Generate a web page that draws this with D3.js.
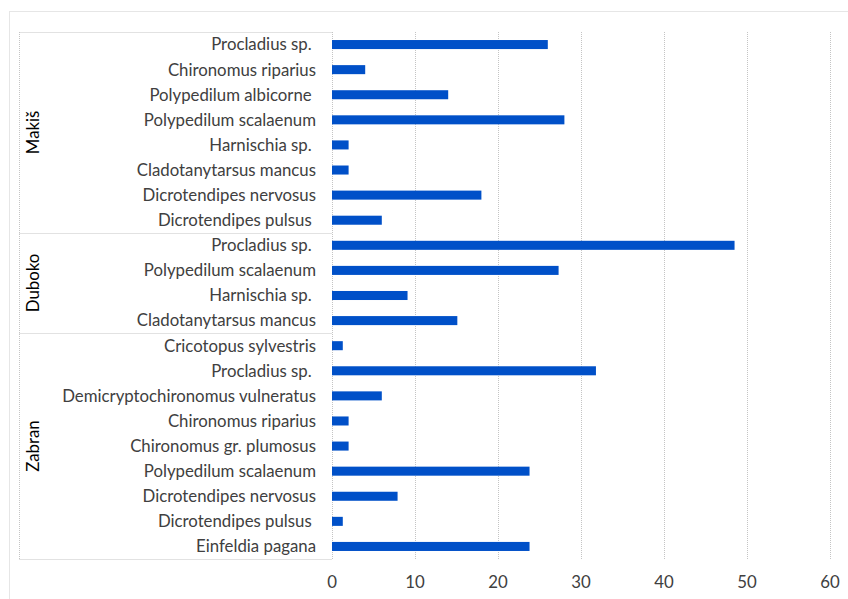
<!DOCTYPE html>
<html><head><meta charset="utf-8">
<script src="https://cdn.jsdelivr.net/npm/d3@7"></script>
<style>
body{margin:0;background:#fff;}
svg{display:block;font-family:Lato,"Open Sans",sans-serif;}
</style></head><body>
<svg id="c" width="848" height="599"></svg>
<script>
const groups = ["Makiš","Duboko","Zabran"];
const makisSpecies = ["Procladius sp. ","Chironomus riparius","Polypedilum albicorne ","Polypedilum scalaenum","Harnischia sp. ","Cladotanytarsus mancus","Dicrotendipes nervosus","Dicrotendipes pulsus "];
const makisValues = [26,4,14,28,2,2,18,6];
const dubokoSpecies = ["Procladius sp. ","Polypedilum scalaenum","Harnischia sp. ","Cladotanytarsus mancus"];
const dubokoValues = [48.5,27.3,9.1,15.1];
const zabranSpecies = ["Cricotopus sylvestris","Procladius sp. ","Demicryptochironomus vulneratus","Chironomus riparius","Chironomus gr. plumosus","Polypedilum scalaenum","Dicrotendipes nervosus","Dicrotendipes pulsus ","Einfeldia pagana"];
const zabranValues = [1.3,31.8,6,2,2,23.8,7.9,1.3,23.8];
const xTicks = [0,10,20,30,40,50,60];

(function(){
const groupSpecies = [makisSpecies, dubokoSpecies, zabranSpecies];
const groupValues = [makisValues, dubokoValues, zabranValues];
const rows = [];
groups.forEach((g,gi)=>groupSpecies[gi].forEach((s,i)=>rows.push({group:g,species:s,value:groupValues[gi][i],id:g+"|"+i})));

const svg = d3.select("#c");
const pL=332, pR=830, pT=32, pB=559;
const x = d3.scaleLinear().domain([0,60]).range([pL,pR]);
const y = d3.scaleBand().domain(rows.map(r=>r.id)).range([pT,pB]).paddingInner(0.64).paddingOuter(0.32);
const gridColor="#c4c4c4", textColor="#404040";
const fs = 16.8;

svg.append("rect").attr("x",9.5).attr("y",11.5).attr("width",900).attr("height",700)
  .attr("fill","none").attr("stroke","#cccccc").attr("stroke-dasharray","1,1");

svg.append("g").selectAll("line").data(xTicks).join("line")
  .attr("x1",d=>Math.round(x(d))+0.5).attr("x2",d=>Math.round(x(d))+0.5)
  .attr("y1",pT).attr("y2",pB)
  .attr("stroke",gridColor).attr("stroke-dasharray","1,1");

const boxLeft=19.5;
svg.append("line").attr("x1",boxLeft).attr("x2",boxLeft).attr("y1",pT).attr("y2",pB)
  .attr("stroke",gridColor).attr("stroke-dasharray","1,1");
const bounds=[];
let idx=0;
groupSpecies.forEach(sp=>{bounds.push(idx); idx+=sp.length;});
bounds.push(idx);
const yEdge = i => pT + (pB-pT)*i/rows.length;
svg.append("g").selectAll("line").data(bounds).join("line")
  .attr("x1",boxLeft).attr("x2",pL)
  .attr("y1",d=>Math.round(yEdge(d))+0.5).attr("y2",d=>Math.round(yEdge(d))+0.5)
  .attr("stroke",gridColor).attr("stroke-dasharray","1,1");

svg.append("g").selectAll("text").data(groups).join("text")
  .attr("transform",(g,gi)=>`translate(39,${(yEdge(bounds[gi])+yEdge(bounds[gi+1]))/2}) rotate(-90)`)
  .attr("text-anchor","middle").attr("fill","#000").attr("font-size",fs).text(d=>d);

svg.append("g").selectAll("text").data(rows).join("text")
  .attr("x",316).attr("y",d=>y(d.id)+y.bandwidth()/2).attr("dy","0.35em")
  .attr("text-anchor","end").attr("fill",textColor).attr("font-size",fs)
  .style("white-space","pre").text(d=>d.species);

svg.append("g").selectAll("rect").data(rows).join("rect")
  .attr("x",x(0)).attr("y",d=>y(d.id)).attr("width",d=>x(d.value)-x(0)).attr("height",y.bandwidth())
  .attr("fill","#0050c8");

svg.append("g").selectAll("text").data(xTicks).join("text")
  .attr("x",d=>x(d)).attr("y",582).attr("dy","0.35em").attr("text-anchor","middle")
  .attr("fill",textColor).attr("font-size",fs).text(d=>d);
})();
</script>
</body></html>
